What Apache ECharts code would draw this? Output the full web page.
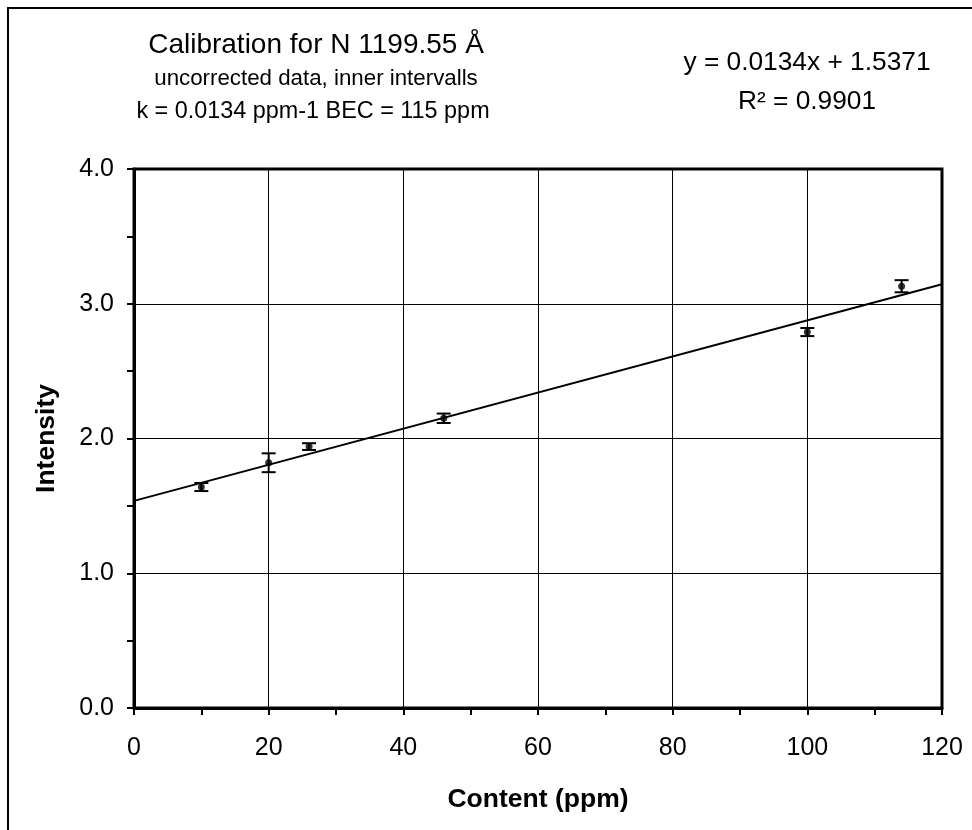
<!DOCTYPE html>
<html>
<head>
<meta charset="utf-8">
<script src="https://cdn.jsdelivr.net/npm/echarts@6/dist/echarts.min.js"></script>
<style>
html,body{margin:0;padding:0;background:#fff;}
#chart{width:972px;height:830px;}
</style>
</head>
<body>
<div id="chart"></div>
<script>
// ---- data ----
const contentPpm = [10, 20, 26, 46, 100, 114];
const intensity = [1.64, 1.82, 1.94, 2.15, 2.79, 3.13];
const errorHalf = [0.03, 0.07, 0.025, 0.035, 0.03, 0.045];
const trendX = [0, 120];
const trendY = [1.5371, 3.1451];
const titleLines = ['Calibration for N 1199.55 Å', 'uncorrected data, inner intervalls', 'k = 0.0134 ppm-1 BEC = 115 ppm'];
const equationLines = ['y = 0.0134x + 1.5371', 'R² = 0.9901'];
const xAxisName = 'Content (ppm)';
const yAxisName = 'Intensity';

const FONT = '"Liberation Sans", Arial, sans-serif';
const chart = echarts.init(document.getElementById('chart'), null, {renderer: 'canvas'});

const points = contentPpm.map((x, i) => [x, intensity[i]]);
const errData = contentPpm.map((x, i) => [x, intensity[i] - errorHalf[i], intensity[i] + errorHalf[i]]);
const trendData = trendX.map((x, i) => [x, trendY[i]]);

const option = {
  backgroundColor: '#fff',
  animation: false,
  textStyle: {fontFamily: FONT},
  grid: {left: 134, right: 30, top: 169, bottom: 122, show: true, borderColor: '#000', borderWidth: 3, containLabel: false},
  xAxis: {
    type: 'value', min: 0, max: 120, interval: 20,
    name: xAxisName, nameLocation: 'middle', nameGap: 78,
    nameTextStyle: {fontFamily: FONT, fontSize: 26.5, fontWeight: 'bold', color: '#000'},
    axisLine: {show: true, lineStyle: {color: '#000', width: 3}},
    axisTick: {show: true, inside: false, length: 7, lineStyle: {color: '#000', width: 2}},
    minorTick: {show: true, splitNumber: 2, length: 7, lineStyle: {color: '#000', width: 2}},
    axisLabel: {fontFamily: FONT, fontSize: 25, color: '#000', margin: 28},
    splitLine: {show: true, lineStyle: {color: '#000', width: 1}}
  },
  yAxis: {
    type: 'value', min: 0, max: 4, interval: 1,
    name: yAxisName, nameLocation: 'middle', nameGap: 74, nameRotate: 90,
    nameTextStyle: {fontFamily: FONT, fontSize: 26.5, fontWeight: 'bold', color: '#000'},
    axisLine: {show: true, lineStyle: {color: '#000', width: 3}},
    axisTick: {show: true, inside: false, length: 7, lineStyle: {color: '#000', width: 2}},
    minorTick: {show: true, splitNumber: 2, length: 7, lineStyle: {color: '#000', width: 2}},
    axisLabel: {fontFamily: FONT, fontSize: 25, color: '#000', margin: 20, formatter: v => v.toFixed(1)},
    splitLine: {show: true, lineStyle: {color: '#000', width: 1}}
  },
  graphic: [
    {type: 'rect', shape: {x: 8, y: 8, width: 1200, height: 1200}, style: {fill: 'none', stroke: '#000', lineWidth: 2}, silent: true, z: -1},
    {type: 'text', x: 316, y: 45, style: {text: titleLines[0], font: '28px ' + FONT, fill: '#000', align: 'center', verticalAlign: 'middle'}},
    {type: 'text', x: 316, y: 79, style: {text: titleLines[1], font: '22.3px ' + FONT, fill: '#000', align: 'center', verticalAlign: 'middle'}},
    {type: 'text', x: 313, y: 112, style: {text: titleLines[2], font: '23.4px ' + FONT, fill: '#000', align: 'center', verticalAlign: 'middle'}},
    {type: 'text', x: 807, y: 63, style: {text: equationLines[0], font: '26.3px ' + FONT, fill: '#000', align: 'center', verticalAlign: 'middle'}},
    {type: 'text', x: 807, y: 102, style: {text: equationLines[1], font: '26.3px ' + FONT, fill: '#000', align: 'center', verticalAlign: 'middle'}}
  ],
  series: [
    {
      type: 'line', data: trendData, showSymbol: false, symbol: 'none',
      lineStyle: {color: '#000', width: 2}, z: 2, silent: true
    },
    {
      type: 'custom', data: errData, z: 3, silent: true,
      renderItem: function (params, api) {
        const x = api.value(0);
        const lo = api.coord([x, api.value(1)]);
        const hi = api.coord([x, api.value(2)]);
        const hw = 7;
        const st = {stroke: '#000', lineWidth: 2};
        return {type: 'group', children: [
          {type: 'line', shape: {x1: lo[0], y1: lo[1], x2: hi[0], y2: hi[1]}, style: st},
          {type: 'line', shape: {x1: lo[0] - hw, y1: lo[1], x2: lo[0] + hw, y2: lo[1]}, style: st},
          {type: 'line', shape: {x1: hi[0] - hw, y1: hi[1], x2: hi[0] + hw, y2: hi[1]}, style: st}
        ]};
      }
    },
    {
      type: 'scatter', data: points, symbol: 'circle', symbolSize: 7,
      itemStyle: {color: '#000'}, z: 4, silent: true
    }
  ]
};
chart.setOption(option);
</script>
</body>
</html>
